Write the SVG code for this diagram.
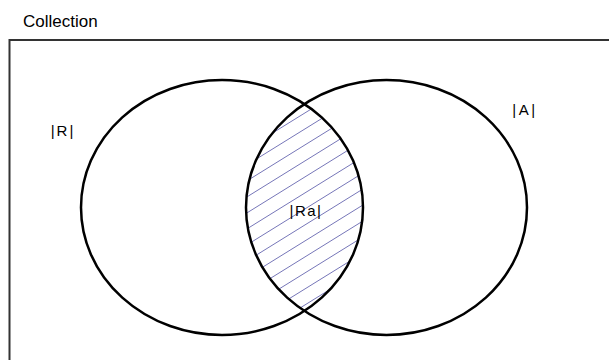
<svg xmlns="http://www.w3.org/2000/svg" width="609" height="360" viewBox="0 0 609 360">
  <style>
    .lbl { font-family: "Liberation Sans", Arial, sans-serif; font-size: 15px; fill: #000; }
    .title { font-family: "Liberation Sans", Arial, sans-serif; font-size: 17px; fill: #000; }
    .set { fill: none; stroke: #000; stroke-width: 2.5; }
    .hatch { fill: none; stroke: #7676b8; stroke-width: 1; }
  </style>
  <defs>
    <clipPath id="clipR"><ellipse cx="222" cy="207.5" rx="141" ry="127.5"/></clipPath>
    <clipPath id="clipA"><ellipse cx="386.5" cy="207.5" rx="140.5" ry="127.5"/></clipPath>
  </defs>
  <rect width="609" height="360" fill="#fff"/>
  <g id="collection">
    <text class="title" x="23" y="27">Collection</text>
    <rect x="9.5" y="40" width="620" height="340" fill="none" stroke="#333" stroke-width="2"/>
  </g>
  <g id="intersection-Ra">
    <g clip-path="url(#clipR)">
      <g clip-path="url(#clipA)">
        <path class="hatch" d="M240,89.2L370,8.6M240,105.2L370,24.6M240,121.2L370,40.6M240,137.2L370,56.6M240,153.2L370,72.6M240,169.2L370,88.6M240,185.2L370,104.6M240,201.2L370,120.6M240,217.2L370,136.6M240,233.2L370,152.6M240,249.2L370,168.6M240,265.2L370,184.6M240,281.2L370,200.6M240,297.2L370,216.6M240,313.2L370,232.6M240,329.2L370,248.6M240,345.2L370,264.6M240,361.2L370,280.6"/>
      </g>
    </g>
    <text class="lbl" x="306" y="216" text-anchor="middle" letter-spacing="1.5">|Ra|</text>
  </g>
  <g id="set-R">
    <ellipse class="set" cx="222" cy="207.5" rx="141" ry="127.5"/>
    <text class="lbl" x="63" y="136" text-anchor="middle" letter-spacing="2">|R|</text>
  </g>
  <g id="set-A">
    <ellipse class="set" cx="386.5" cy="207.5" rx="140.5" ry="127.5"/>
    <text class="lbl" x="525" y="115" text-anchor="middle" letter-spacing="2.5">|A|</text>
  </g>
  <g id="connectors"/>
</svg>
